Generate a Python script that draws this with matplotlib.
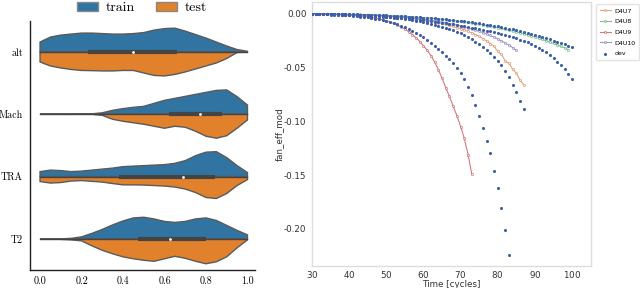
import numpy as np
import matplotlib
matplotlib.use("Agg")
import matplotlib.pyplot as plt
from matplotlib.patches import Patch

plt.rcParams['axes.formatter.use_mathtext'] = True

# ---------------- violin data ----------------
features = ["alt", "Mach", "TRA", "T2"]
grid = [0.0, 0.05, 0.1, 0.15, 0.2, 0.25, 0.3, 0.35, 0.4, 0.45, 0.5,
        0.55, 0.6, 0.65, 0.7, 0.75, 0.8, 0.85, 0.9, 0.95, 1.0]
train_density = [
    [10, 15, 17, 18, 19, 19, 18.5, 18, 18, 18.5, 19.5, 22, 23.5, 24, 21, 17.5, 14, 10, 6, 2.5, 0.7],
    [0, 0, 0, 0, 0.3, 0.5, 1.5, 4, 5.7, 7, 8, 11, 14, 16, 18, 20, 22, 24, 24.5, 17.7, 9.3],
    [5, 6.5, 6, 5, 5.5, 6.5, 7.5, 8.5, 10, 10.5, 11, 11.5, 12, 13.3, 16, 21, 24.5, 25, 19, 11, 4],
    [0, 0, 0, 0.5, 2, 5.5, 9.5, 14, 18, 21, 21.7, 20, 17.5, 16.5, 17.5, 20, 21, 18.5, 13.5, 8.5, 4],
]
test_density = [
    [10, 14, 16, 17.5, 18.5, 18.7, 19, 19, 18.5, 18.5, 21, 23.5, 24, 22.5, 20, 17, 14, 11, 6.5, 0.5, 0],
    [0, 0, 0, 0, 0, 0, 1, 5, 7, 8.5, 10, 12, 14, 12, 13, 17, 22, 24, 21.5, 14, 5.7],
    [5, 6.5, 6, 4.5, 4, 4.8, 5.5, 7, 8.3, 8.3, 8.5, 9, 9.5, 10.5, 12.5, 16, 21, 22, 17, 9, 3],
    [0, 0, 0.5, 1, 2, 7, 11.5, 15, 18, 20, 21.5, 22.5, 20, 17.5, 19.5, 22.5, 25, 23, 18, 9, 1],
]
q1 = [0.23, 0.62, 0.38, 0.47]
median = [0.45, 0.77, 0.69, 0.627]
q3 = [0.66, 0.876, 0.845, 0.80]
data_min = [0.0, 0.0, 0.0, 0.0]
data_max = [1.0, 1.0, 1.0, 1.0]

# ---------------- degradation data ----------------
dev_a = [-0.0005, -0.0006, -0.0007, -0.0008, -0.0009, -0.001, -0.0011, -0.0013, -0.0014, -0.0016,
         -0.0018, -0.0021, -0.0024, -0.0028, -0.0032, -0.0036, -0.0041, -0.0047, -0.0053, -0.006,
         -0.0068, -0.0077, -0.0088, -0.010, -0.0112, -0.0125, -0.014, -0.0158, -0.0178, -0.020,
         -0.0222, -0.0245, -0.027, -0.0297, -0.0326, -0.0357, -0.039, -0.0425, -0.0463, -0.0505,
         -0.055, -0.061, -0.068, -0.076, -0.085, -0.095, -0.106, -0.118, -0.130, -0.146,
         -0.162, -0.181, -0.201, -0.224]
dev_b = [-0.0003, -0.0003, -0.0004, -0.0004, -0.0005, -0.0006, -0.0006, -0.0007, -0.0008, -0.0009,
         -0.001, -0.0011, -0.0012, -0.0014, -0.0015, -0.0017, -0.0019, -0.0021, -0.0023, -0.0025,
         -0.0028, -0.0031, -0.0035, -0.0039, -0.0043, -0.0048, -0.0053, -0.0059, -0.0065, -0.0072,
         -0.0079, -0.0087, -0.0095, -0.0104, -0.0113, -0.0123, -0.0134, -0.0145, -0.0157, -0.017,
         -0.0185, -0.020, -0.022, -0.024, -0.026, -0.028, -0.031, -0.034, -0.037, -0.040,
         -0.044, -0.048, -0.053, -0.059, -0.066, -0.073, -0.081, -0.089]
dev_c = [-0.0003, -0.0004, -0.0004, -0.0005, -0.0006, -0.0007, -0.0008, -0.0009, -0.001, -0.0011,
         -0.0012, -0.0014, -0.0015, -0.0017, -0.0019, -0.0021, -0.0023, -0.0025, -0.0027, -0.0029,
         -0.0032, -0.0034, -0.0037, -0.004, -0.0043, -0.0046, -0.0049, -0.0053, -0.0056, -0.006,
         -0.0064, -0.0068, -0.0072, -0.0076, -0.0081, -0.0085, -0.009, -0.0095, -0.010, -0.0106,
         -0.0112, -0.0118, -0.0124, -0.013, -0.0137, -0.0144, -0.0151, -0.0158, -0.0166, -0.0174,
         -0.0182, -0.0191, -0.020, -0.021, -0.022, -0.0231, -0.0242, -0.0254, -0.0267, -0.0281,
         -0.030, -0.0318, -0.0338, -0.036, -0.0384, -0.0415, -0.0446, -0.048, -0.0518, -0.0562, -0.0612]
dev_d = [-0.0002, -0.0002, -0.0003, -0.0003, -0.0004, -0.0004, -0.0005, -0.0005, -0.0006, -0.0007,
         -0.0007, -0.0008, -0.0009, -0.001, -0.0011, -0.0012, -0.0013, -0.0014, -0.0015, -0.0017,
         -0.0018, -0.002, -0.0021, -0.0023, -0.0025, -0.0027, -0.0029, -0.0031, -0.0033, -0.0035,
         -0.0038, -0.004, -0.0043, -0.0046, -0.0049, -0.0052, -0.0055, -0.0058, -0.0062, -0.0066,
         -0.007, -0.0074, -0.0078, -0.0082, -0.0087, -0.0092, -0.0097, -0.0102, -0.0108, -0.0114,
         -0.012, -0.0126, -0.0133, -0.014, -0.0147, -0.0155, -0.0163, -0.0171, -0.018, -0.0189,
         -0.0198, -0.0208, -0.0218, -0.0229, -0.024, -0.0251, -0.0263, -0.0275, -0.0287, -0.0299, -0.0312]
dev_units = [dev_a, dev_b, dev_c, dev_d]

d4u7 = [-0.0003, -0.0003, -0.0004, -0.0004, -0.0005, -0.0006, -0.0006, -0.0007, -0.0008, -0.0009,
        -0.001, -0.0011, -0.0012, -0.0013, -0.0015, -0.0016, -0.0018, -0.0019, -0.0021, -0.0023,
        -0.0025, -0.0027, -0.003, -0.0032, -0.0035, -0.0038, -0.0042, -0.0046, -0.005, -0.0056,
        -0.0062, -0.0067, -0.0072, -0.0078, -0.0085, -0.0092, -0.010, -0.011, -0.012, -0.013,
        -0.014, -0.0152, -0.0165, -0.018, -0.0196, -0.0213, -0.0232, -0.0254, -0.028, -0.0305,
        -0.0352, -0.038, -0.044, -0.0462, -0.0518, -0.0552, -0.0622, -0.0662]
d4u8 = [-0.0002, -0.0002, -0.0003, -0.0003, -0.0003, -0.0004, -0.0004, -0.0005, -0.0005, -0.0006,
        -0.0007, -0.0007, -0.0008, -0.0009, -0.001, -0.0011, -0.0012, -0.0013, -0.0014, -0.0016,
        -0.0017, -0.0019, -0.002, -0.0022, -0.0024, -0.0026, -0.0028, -0.003, -0.0033, -0.0035,
        -0.0038, -0.0041, -0.0044, -0.0047, -0.005, -0.0054, -0.0057, -0.0061, -0.0065, -0.0069,
        -0.0074, -0.0078, -0.0083, -0.0088, -0.0094, -0.0099, -0.0105, -0.0112, -0.0118, -0.0125,
        -0.0132, -0.0139, -0.0147, -0.0155, -0.0163, -0.0171, -0.018, -0.0189, -0.0199, -0.0209,
        -0.0219, -0.023, -0.0241, -0.0253, -0.0265, -0.0278, -0.0291, -0.0305, -0.032, -0.0336]
d4u9 = [-0.0004, -0.0004, -0.0005, -0.0006, -0.0007, -0.0008, -0.0009, -0.001, -0.0011, -0.0013,
        -0.0015, -0.0017, -0.002, -0.0023, -0.0027, -0.0032, -0.0037, -0.0043, -0.005, -0.0058,
        -0.0068, -0.0079, -0.0092, -0.0107, -0.0125, -0.0145, -0.0168, -0.0195, -0.0225, -0.026,
        -0.030, -0.034, -0.039, -0.045, -0.052, -0.060, -0.069, -0.077, -0.086, -0.095,
        -0.105, -0.116, -0.131, -0.149]
d4u10 = [-0.0003, -0.0003, -0.0004, -0.0004, -0.0005, -0.0005, -0.0006, -0.0007, -0.0008, -0.0008,
         -0.0009, -0.001, -0.0011, -0.0012, -0.0014, -0.0015, -0.0016, -0.0018, -0.0019, -0.0021,
         -0.0023, -0.0025, -0.0027, -0.003, -0.0032, -0.0035, -0.0038, -0.0041, -0.0045, -0.0049,
         -0.0053, -0.0058, -0.0063, -0.0068, -0.0074, -0.008, -0.0086, -0.0093, -0.010, -0.0108,
         -0.0116, -0.0125, -0.0134, -0.0144, -0.0154, -0.0165, -0.0177, -0.019, -0.0204, -0.0219,
         -0.0236, -0.0254, -0.0273, -0.0294, -0.0317, -0.0342]
test_units = {"D4U7": d4u7, "D4U8": d4u8, "D4U9": d4u9, "D4U10": d4u10}
start_cycle = 30

# ---------------- figure ----------------
fig = plt.figure(figsize=(6.4, 2.88), dpi=100)

train_c, test_c, edge_c = "#3274a1", "#e1812c", "#5a5a5a"
ax1 = fig.add_axes([0.047, 0.0625, 0.352, 0.865])
g = np.array(grid)
scale = 0.4 / max(max(max(r) for r in train_density), max(max(r) for r in test_density))
for i, feat in enumerate(features):
    wt = np.array(train_density[i]) * scale
    ws = np.array(test_density[i]) * scale
    ax1.fill(np.r_[g, g[::-1]], np.r_[i - wt, np.full(len(g), i)],
             facecolor=train_c, edgecolor=edge_c, lw=1, zorder=2)
    ax1.fill(np.r_[g, g[::-1]], np.r_[i + ws, np.full(len(g), i)],
             facecolor=test_c, edgecolor=edge_c, lw=1, zorder=2)
    ax1.plot([data_min[i], data_max[i]], [i, i], color="#444444", lw=1, zorder=3)
    ax1.plot([q1[i], q3[i]], [i, i], color="#444444", lw=3, solid_capstyle="butt", zorder=4)
    ax1.scatter([median[i]], [i], s=4, color="white", zorder=5, linewidths=0)

ax1.set_xlim(-0.048, 1.038)
ax1.set_ylim(3.5, -0.5)
ax1.set_yticks(range(len(features)))
ax1.set_yticklabels(features, family="cmr10", fontsize=7.2)
ax1.set_xticks([0.0, 0.2, 0.4, 0.6, 0.8, 1.0])
ax1.set_xticklabels(["0.0", "0.2", "0.4", "0.6", "0.8", "1.0"], family="cmr10", fontsize=7.2)
ax1.tick_params(axis="y", length=0, pad=5)
ax1.tick_params(axis="x", length=0, pad=5)
for s in ["top", "right"]:
    ax1.spines[s].set_visible(False)
for s in ["left", "bottom"]:
    ax1.spines[s].set_color("#222222")
    ax1.spines[s].set_linewidth(1)
handles = [Patch(facecolor=train_c, edgecolor="#888888", label="train"),
           Patch(facecolor=test_c, edgecolor="#888888", label="test")]
fig.legend(handles=handles, loc="center", bbox_to_anchor=(0.222, 0.972), ncol=2,
           frameon=False, prop={"family": "cmr10", "size": 10},
           handlelength=1.5, handleheight=0.7, columnspacing=1.5, handletextpad=0.55)

# right panel
ax2 = fig.add_axes([0.4875, 0.0764, 0.436, 0.917])
colors = {"D4U7": "#DD8452", "D4U8": "#55A868", "D4U9": "#C44E52", "D4U10": "#8172B3"}
for name, vals in test_units.items():
    t = np.arange(start_cycle, start_cycle + len(vals))
    ax2.plot(t, vals, color=colors[name], lw=0.8, alpha=0.75, marker="o", ms=1.6,
             mfc="white", mew=0.5, label=name, zorder=2)
for k, vals in enumerate(dev_units):
    t = np.arange(start_cycle, start_cycle + len(vals))
    ax2.scatter(t, vals, s=5, color="#3a5fad", linewidths=0, zorder=3,
                label="dev" if k == 0 else None)
ax2.set_xlim(30, 105.1)
ax2.set_ylim(-0.2345, 0.0108)
ax2.set_xticks(range(30, 101, 10))
ax2.set_yticks([0.0, -0.05, -0.10, -0.15, -0.20])
ax2.yaxis.set_major_formatter(matplotlib.ticker.FormatStrFormatter("%.2f"))
ax2.tick_params(length=0, labelsize=6.3, colors="#333333")
ax2.tick_params(axis="x", pad=2)
ax2.tick_params(axis="y", pad=4)
for s in ax2.spines.values():
    s.set_color("#dddddd")
    s.set_linewidth(1)
ax2.set_xlabel("Time [cycles]", fontsize=6.3, color="#333333", labelpad=0)
ax2.set_ylabel("fan_eff_mod", fontsize=6.3, color="#333333", labelpad=0)
ax2.legend(loc="upper left", bbox_to_anchor=(1.008, 1.0), fontsize=4.5, frameon=True,
           edgecolor="#dddddd", handlelength=1.8, handletextpad=0.6, labelspacing=0.85,
           borderpad=0.6, borderaxespad=0.4, markerscale=1.0)

fig.savefig("out.png", dpi=100)
